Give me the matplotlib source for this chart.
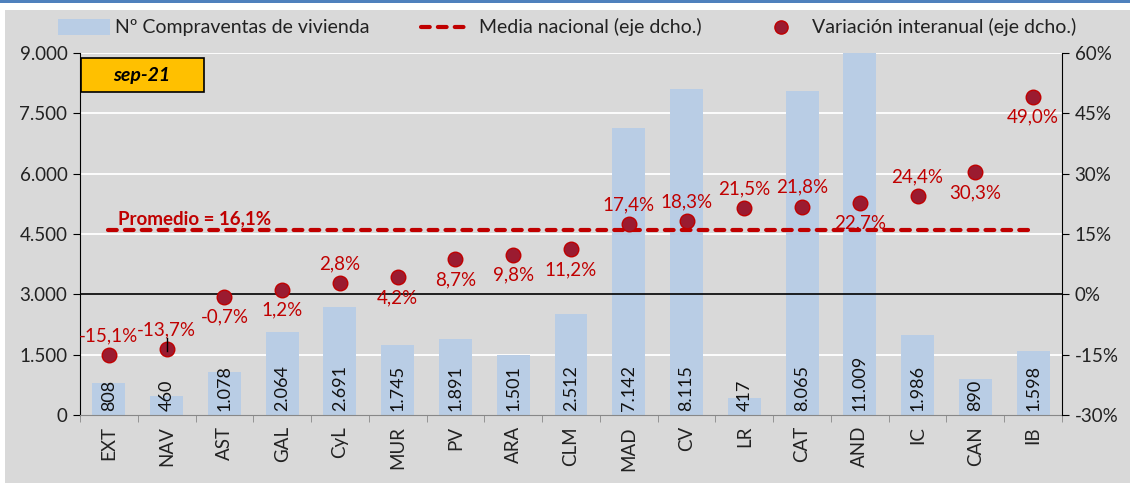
import matplotlib
matplotlib.use("Agg")
import matplotlib.pyplot as plt
from matplotlib.lines import Line2D
from matplotlib.patches import Rectangle

plt.rcParams['font.family'] = ['Lato', 'DejaVu Sans']

regions = ["EXT", "NAV", "AST", "GAL", "CyL", "MUR", "PV", "ARA", "CLM", "MAD",
           "CV", "LR", "CAT", "AND", "IC", "CAN", "IB"]
sales = [808, 460, 1078, 2064, 2691, 1745, 1891, 1501, 2512, 7142,
         8115, 417, 8065, 11009, 1986, 890, 1598]
sales_labels = ["808", "460", "1.078", "2.064", "2.691", "1.745", "1.891", "1.501", "2.512",
                "7.142", "8.115", "417", "8.065", "11.009", "1.986", "890", "1.598"]
yoy = [-15.1, -13.7, -0.7, 1.2, 2.8, 4.2, 8.7, 9.8, 11.2, 17.4,
       18.3, 21.5, 21.8, 22.7, 24.4, 30.3, 49.0]
yoy_labels = ["-15,1%", "-13,7%", "-0,7%", "1,2%", "2,8%", "4,2%", "8,7%", "9,8%", "11,2%",
              "17,4%", "18,3%", "21,5%", "21,8%", "22,7%", "24,4%", "30,3%", "49,0%"]
label_above = [True, True, False, False, True, False, False, False, False,
               True, True, True, True, False, True, False, False]
national_mean = 16.1
left_ticks = [0, 1500, 3000, 4500, 6000, 7500, 9000]
left_ticklabels = ["0", "1.500", "3.000", "4.500", "6.000", "7.500", "9.000"]
right_ticks = [-30, -15, 0, 15, 30, 45, 60]
right_ticklabels = ["-30%", "-15%", "0%", "15%", "30%", "45%", "60%"]

BG = "#d9d9d9"
BAR = "#b9cde5"
RED = "#c00000"
DOT = "#9b1b30"
TXT = "#222222"
W, H = 1130, 483

def fx(px):
    return px / W

def fy(py):
    return 1 - py / H

fig = plt.figure(figsize=(11.3, 4.83), dpi=100)
fig.patch.set_facecolor("white")
fig.add_artist(Rectangle((fx(5), 0), 1, 1 - 10 / H, transform=fig.transFigure,
                         facecolor=BG, edgecolor="none", zorder=-10))
fig.add_artist(Rectangle((0, fy(3)), 1, 3 / H, transform=fig.transFigure,
                         facecolor="#4f81bd", edgecolor="none", zorder=-10))

ax = fig.add_axes([fx(80), fy(415), 982 / W, 362 / H])
ax.set_facecolor(BG)
x = list(range(len(regions)))
ax.bar(x, sales, width=0.57, color=BAR, zorder=2)
ax.set_ylim(0, 9000)
ax.set_xlim(-0.5, len(regions) - 0.5)
ax.set_yticks(left_ticks)
ax.set_yticklabels(left_ticklabels, fontsize=13.5, color=TXT)
for t in left_ticks:
    if t not in (0, 3000):
        ax.axhline(t, color="white", lw=1.3, zorder=1)
ax.axhline(3000, color="black", lw=1.2, zorder=4)
ax.set_xticks(x)
ax.set_xticklabels(regions, rotation=90, fontsize=13.5, color=TXT)
ax.set_xticks([i - 0.5 for i in range(len(regions) + 1)], minor=True)
ax.tick_params(axis="x", which="major", length=0, pad=8)
ax.tick_params(axis="x", which="minor", length=5, color="#888888")
ax.tick_params(axis="y", length=5, color="black", pad=4)
for s in ["top", "right"]:
    ax.spines[s].set_visible(False)
ax.spines["bottom"].set_color("#888888")
ax.spines["left"].set_color("black")

for i, lab in enumerate(sales_labels):
    ax.text(i, 110, lab, rotation=90, ha="center", va="bottom", fontsize=13,
            color="#111111", zorder=5)

ax2 = ax.twinx()
ax2.set_ylim(-30, 60)
ax2.set_yticks(right_ticks)
ax2.set_yticklabels(right_ticklabels, fontsize=13.5, color=TXT)
ax2.tick_params(axis="y", length=5, color="black", pad=4)
for s in ["top", "left", "bottom"]:
    ax2.spines[s].set_visible(False)
ax2.spines["right"].set_color("black")

ax2.plot([x[0] - 0.02, x[-1]], [national_mean, national_mean], color=RED, lw=3,
         ls=(0, (2.1, 1.95)), dash_capstyle="round", zorder=3)
ax2.scatter(x, yoy, s=110, color=DOT, edgecolor=RED, linewidth=1, zorder=5)
for i, (v, lab, up) in enumerate(zip(yoy, yoy_labels, label_above)):
    off = 4.8 if up else -5.0
    ax2.text(i, v + off, lab, ha="center", va="center", fontsize=13.5, color=RED, zorder=6)
ax2.plot([1, 1], [yoy[1] - 0.3, yoy[1] + 2.8], color="black", lw=1, zorder=6)
ax2.text(0.15, national_mean + 0.7, "Promedio = 16,1%", ha="left", va="bottom",
         fontsize=13.5, fontweight="bold", color=RED, zorder=6)

# sep-21 box
fig.add_artist(Rectangle((fx(81), fy(92)), 123 / W, 34 / H, transform=fig.transFigure,
                         facecolor="#ffc000", edgecolor="black", lw=1.2, zorder=1))
fig.text(fx(142), fy(75), "sep-21", ha="center", va="center", fontsize=14,
         fontweight="bold", style="italic", zorder=2)

# legend drawn manually
ly = fy(27)
fig.add_artist(Rectangle((fx(58), fy(35)), 52 / W, 16 / H, transform=fig.transFigure,
                         facecolor=BAR, edgecolor="none"))
fig.text(fx(115), ly, "Nº Compraventas de vivienda", ha="left", va="center",
         fontsize=14, color=TXT)
fig.add_artist(Line2D([fx(421), fx(466)], [ly, ly], transform=fig.transFigure,
                      color=RED, lw=3, ls=(0, (2.1, 1.95)), dash_capstyle="round"))
fig.text(fx(479), ly, "Media nacional (eje dcho.)", ha="left", va="center",
         fontsize=14, color=TXT)
fig.add_artist(Line2D([fx(781)], [ly], transform=fig.transFigure, marker="o",
                      markersize=9.5, markerfacecolor=DOT, markeredgecolor=RED,
                      linestyle="none"))
fig.text(fx(812), ly, "Variación interanual (eje dcho.)", ha="left", va="center",
         fontsize=14, color=TXT)

fig.savefig("out.png", dpi=100, facecolor=fig.get_facecolor())
